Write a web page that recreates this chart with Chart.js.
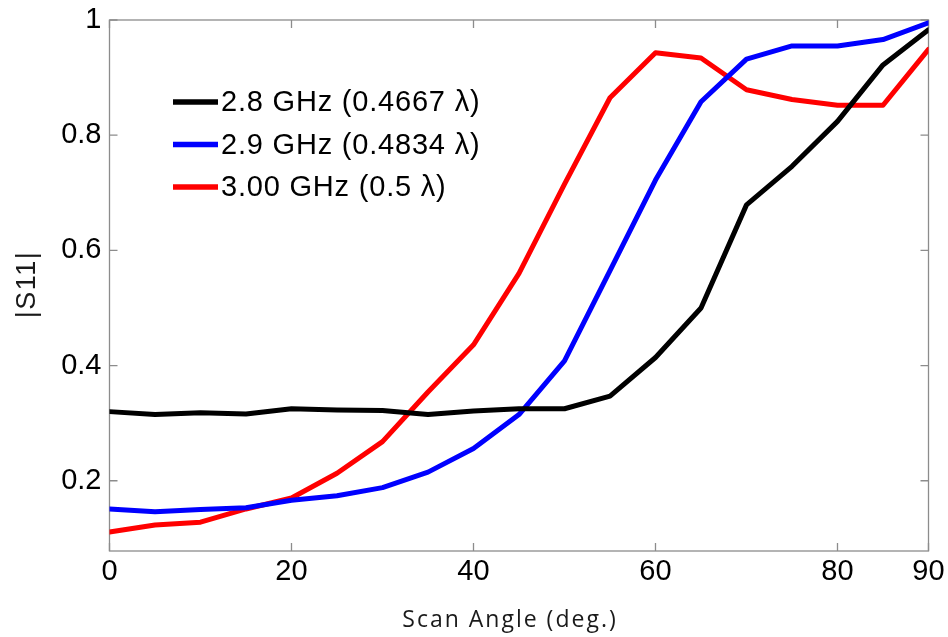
<!DOCTYPE html>
<html>
<head>
<meta charset="utf-8">
<script src="https://cdn.jsdelivr.net/npm/chart.js@4.4.1/dist/chart.umd.min.js"></script>
<style>
  html, body { margin: 0; padding: 0; background: #ffffff; }
  #wrap { width: 948px; height: 637px; }
</style>
</head>
<body>
<div id="wrap"><canvas id="chart" width="948" height="637"></canvas></div>
<script>
// Scan angle in degrees (5-degree steps)
const angles = [0, 5, 10, 15, 20, 25, 30, 35, 40, 45, 50, 55, 60, 65, 70, 75, 80, 85, 90];

// |S11| versus scan angle for each frequency
const s11At28GHz = [0.320, 0.315, 0.318, 0.316, 0.325, 0.323, 0.322, 0.315, 0.321, 0.325,
                    0.325, 0.347, 0.414, 0.500, 0.679, 0.746, 0.824, 0.922, 0.983];
const s11At29GHz = [0.151, 0.146, 0.150, 0.153, 0.166, 0.174, 0.188, 0.215, 0.256, 0.315,
                    0.408, 0.565, 0.722, 0.858, 0.932, 0.955, 0.955, 0.966, 0.995];
const s11At30GHz = [0.111, 0.123, 0.128, 0.151, 0.170, 0.213, 0.268, 0.354, 0.436, 0.560,
                    0.715, 0.865, 0.943, 0.934, 0.879, 0.862, 0.852, 0.852, 0.949];

const seriesLabels = ['2.8 GHz (0.4667 \u03BB)', '2.9 GHz (0.4834 \u03BB)', '3.00 GHz (0.5 \u03BB)'];
const seriesColors = ['#000000', '#0000ff', '#ff0000'];

const xTicks = [0, 20, 40, 60, 80, 90];
const yTicks = [0.2, 0.4, 0.6, 0.8, 1];

const xTitle = 'Scan Angle (deg.)';
const yTitle = '|S11|';

const tickFont = { family: '"Liberation Sans", Arial, sans-serif', size: 29 };

function toPoints(values) {
  return angles.map((a, i) => ({ x: a, y: values[i] }));
}

// Box around the plot with inward tick marks on all four sides
const boxPlugin = {
  id: 'box',
  beforeDatasetsDraw(chart) {
    const { ctx, chartArea: a, scales: { x, y } } = chart;
    const len = 8;
    ctx.save();
    ctx.strokeStyle = '#8c8c8c';
    ctx.lineWidth = 1.3;
    ctx.strokeRect(a.left, a.top, a.right - a.left, a.bottom - a.top);
    ctx.beginPath();
    xTicks.forEach(v => {
      const px = x.getPixelForValue(v);
      ctx.moveTo(px, a.bottom); ctx.lineTo(px, a.bottom - len);
      ctx.moveTo(px, a.top); ctx.lineTo(px, a.top + len);
    });
    yTicks.forEach(v => {
      const py = y.getPixelForValue(v);
      ctx.moveTo(a.left, py); ctx.lineTo(a.left + len, py);
      ctx.moveTo(a.right, py); ctx.lineTo(a.right - len, py);
    });
    ctx.stroke();
    ctx.restore();
  }
};

// Axis titles (spaced lettering)
const axisTitles = {
  id: 'axisTitles',
  afterDraw(chart) {
    const { ctx, chartArea: a } = chart;
    ctx.save();
    ctx.fillStyle = '#1a1a1a';
    ctx.textAlign = 'center';
    ctx.textBaseline = 'alphabetic';
    ctx.font = '23px "Open Sans", Lato, sans-serif';
    ctx.letterSpacing = '2px';
    ctx.fillText(xTitle, (a.left + a.right) / 2 - 9, 626.5);
    ctx.font = '27px "Liberation Sans", Arial, sans-serif';
    ctx.letterSpacing = '1.5px';
    ctx.translate(35, (a.top + a.bottom) / 2 - 1);
    ctx.rotate(-Math.PI / 2);
    ctx.fillText(yTitle, 0, 0);
    ctx.restore();
  }
};

// Legend drawn inside the upper-left part of the plot
const insetLegend = {
  id: 'insetLegend',
  afterDatasetsDraw(chart) {
    const { ctx, chartArea: a } = chart;
    const x0 = a.left + 63.5;
    const y0 = a.top + 82;
    const rowGap = 42.5;
    ctx.save();
    ctx.font = '29px "Liberation Sans", Arial, sans-serif';
    ctx.letterSpacing = '0.8px';
    ctx.textBaseline = 'middle';
    ctx.textAlign = 'left';
    chart.data.datasets.forEach((ds, i) => {
      const yy = y0 + i * rowGap;
      ctx.strokeStyle = ds.borderColor;
      ctx.lineWidth = 5.5;
      ctx.beginPath();
      ctx.moveTo(x0, yy);
      ctx.lineTo(x0 + 45, yy);
      ctx.stroke();
      ctx.fillStyle = '#000000';
      ctx.fillText(ds.label, x0 + 48, yy + 1);
    });
    ctx.restore();
  }
};

// Let the layout padding alone decide the plot edges
function clearScalePadding(s) {
  s.paddingTop = 0;
  s.paddingBottom = 0;
  s.paddingLeft = 0;
  s.paddingRight = 0;
}

new Chart(document.getElementById('chart'), {
  type: 'line',
  data: {
    datasets: [s11At28GHz, s11At29GHz, s11At30GHz].map((vals, i) => ({
      label: seriesLabels[i],
      data: toPoints(vals),
      borderColor: seriesColors[i],
      backgroundColor: seriesColors[i],
      borderWidth: 5,
      pointRadius: 0,
      tension: 0,
      fill: false,
      borderJoinStyle: 'round',
      borderCapStyle: 'round'
    }))
  },
  options: {
    responsive: false,
    animation: false,
    layout: { padding: { top: 20, right: 19.5, bottom: 0, left: 0 } },
    plugins: { legend: { display: false }, tooltip: { enabled: false } },
    scales: {
      x: {
        type: 'linear',
        min: 0,
        max: 90,
        afterBuildTicks: s => { s.ticks = xTicks.map(v => ({ value: v })); },
        afterFit: s => { s.height = 86; clearScalePadding(s); },
        grid: { display: false, drawTicks: false },
        border: { display: false },
        ticks: { font: tickFont, color: '#000000', padding: 4, maxRotation: 0, autoSkip: false }
      },
      y: {
        type: 'linear',
        min: 0.078,
        max: 1,
        afterBuildTicks: s => { s.ticks = yTicks.map(v => ({ value: v })); },
        afterFit: s => { s.width = 109.5; clearScalePadding(s); },
        grid: { display: false, drawTicks: false },
        border: { display: false },
        ticks: { font: tickFont, color: '#000000', padding: 8, callback: v => String(v) }
      }
    }
  },
  plugins: [boxPlugin, insetLegend, axisTitles]
});
</script>
</body>
</html>
